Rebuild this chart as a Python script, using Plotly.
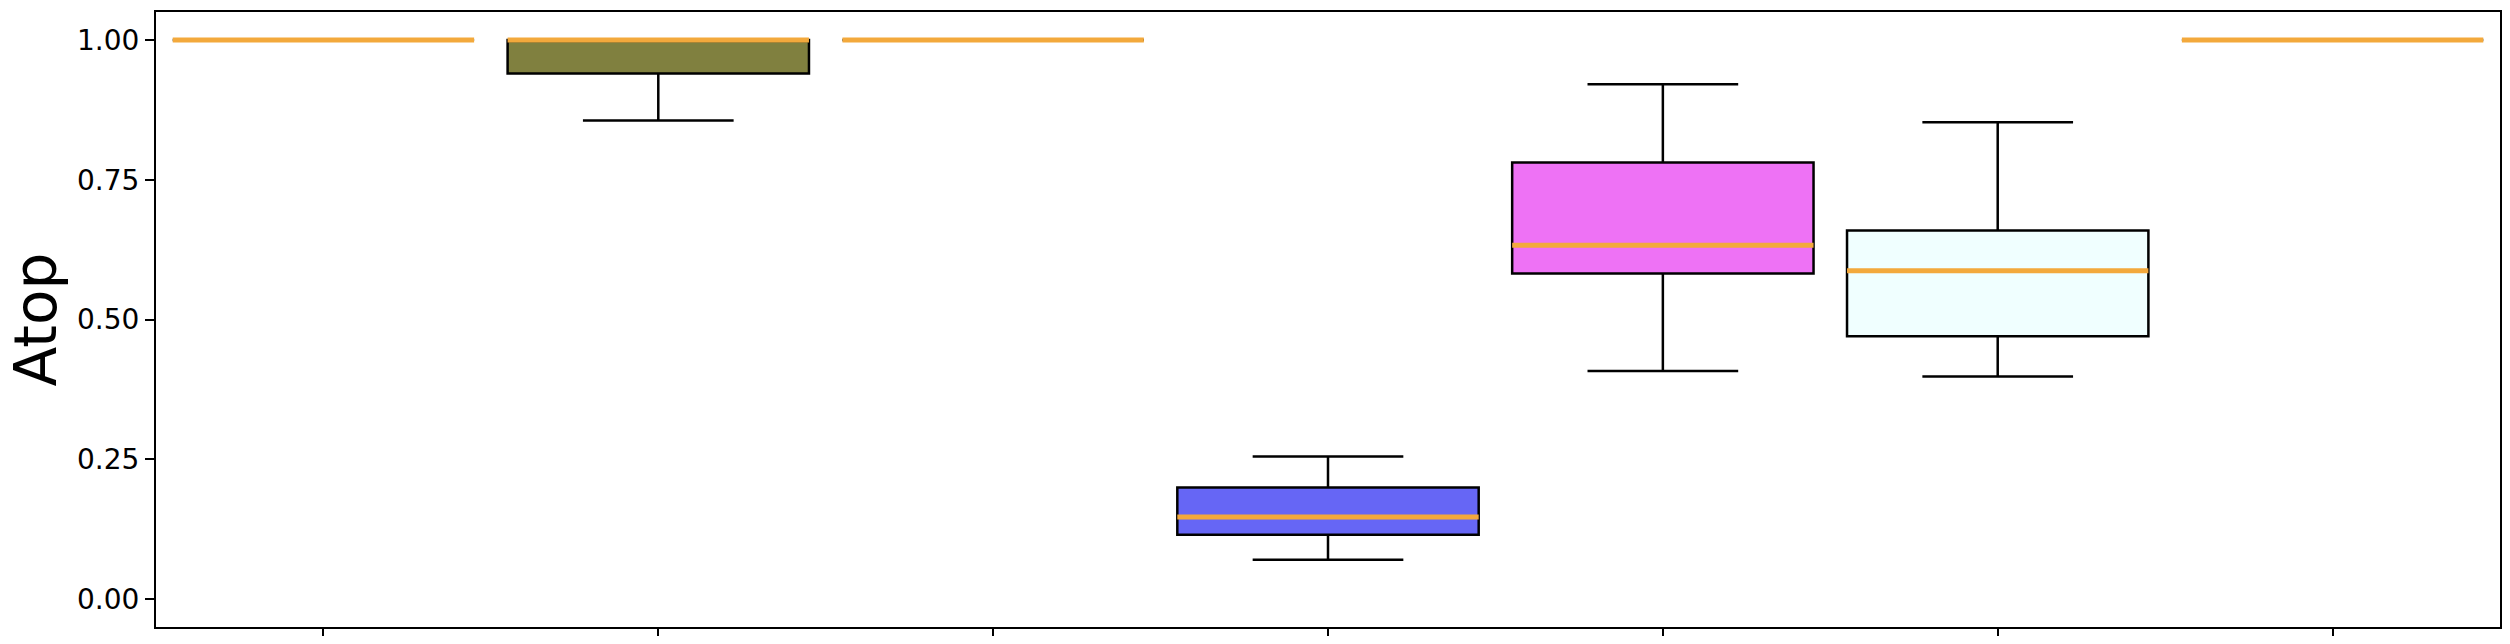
import plotly.graph_objects as go

# Data
positions = [0, 1, 2, 3, 4, 5, 6]
lower_whisker = [1.0, 0.856, 1.0, 0.0705, 0.408, 0.398, 1.0]
q1 = [1.0, 0.940, 1.0, 0.1152, 0.5824, 0.470, 1.0]
median = [1.0, 1.0, 1.0, 0.1468, 0.633, 0.587, 1.0]
q3 = [1.0, 1.0, 1.0, 0.1994, 0.781, 0.659, 1.0]
upper_whisker = [1.0, 1.0, 1.0, 0.2549, 0.9207, 0.853, 1.0]
fill_colors = ["#ffffff", "#80803f", "#ffffff", "#6666f5", "#ee72f5", "#f0ffff", "#ffffff"]
y_ticks = [0.0, 0.25, 0.5, 0.75, 1.0]
y_ticklabels = ["0.00", "0.25", "0.50", "0.75", "1.00"]
y_title = "Atop"

BOX_WIDTH = 0.9
MEDIAN_COLOR = "#F3A93C"

fig = go.Figure()
for i, x in enumerate(positions):
    fig.add_trace(go.Box(
        x=[x],
        q1=[q1[i]], median=[median[i]], q3=[q3[i]],
        lowerfence=[lower_whisker[i]], upperfence=[upper_whisker[i]],
        width=BOX_WIDTH,
        whiskerwidth=0.5,
        fillcolor=fill_colors[i],
        line=dict(color="black", width=2.5),
        boxpoints=False,
        showlegend=False,
        hoverinfo="skip",
    ))

for i, x in enumerate(positions):
    fig.add_trace(go.Scatter(
        x=[x - BOX_WIDTH / 2, x + BOX_WIDTH / 2],
        y=[median[i], median[i]],
        mode="lines",
        line=dict(color=MEDIAN_COLOR, width=5),
        showlegend=False,
        hoverinfo="skip",
    ))

# page body has an 8px default margin; size the figure to fit the window
W, H = 2494, 628
L, R, T, B = 148, 2, 4, 9
fig.update_layout(
    width=W, height=H,
    margin=dict(l=L, r=R, t=T, b=B),
    paper_bgcolor="white", plot_bgcolor="white",
    font=dict(family="DejaVu Sans", color="black", size=28),
    boxmode="overlay",
)
fig.update_xaxes(
    range=[-0.5, 6.5],
    tickvals=positions, ticktext=["" for _ in positions],
    ticks="outside", ticklen=9, tickwidth=2, tickcolor="black",
    showgrid=False, zeroline=False, automargin=False,
    showline=True, linecolor="black", linewidth=2, mirror=True,
)
fig.update_yaxes(
    range=[-0.05, 1.05],
    tickvals=y_ticks, ticktext=y_ticklabels,
    ticks="outside", ticklen=9, tickwidth=2, tickcolor="black",
    tickfont=dict(size=28, family="DejaVu Sans"),
    showgrid=False, zeroline=False, automargin=False,
    showline=True, linecolor="black", linewidth=2, mirror=True,
)
fig.add_annotation(
    text=y_title, textangle=-90,
    xref="paper", yref="paper",
    x=-L / (W - L - R), y=0.5,
    xanchor="left", yanchor="middle", xshift=-9,
    showarrow=False,
    font=dict(size=58, family="DejaVu Sans", color="black"),
)

fig.write_html("out.html")
